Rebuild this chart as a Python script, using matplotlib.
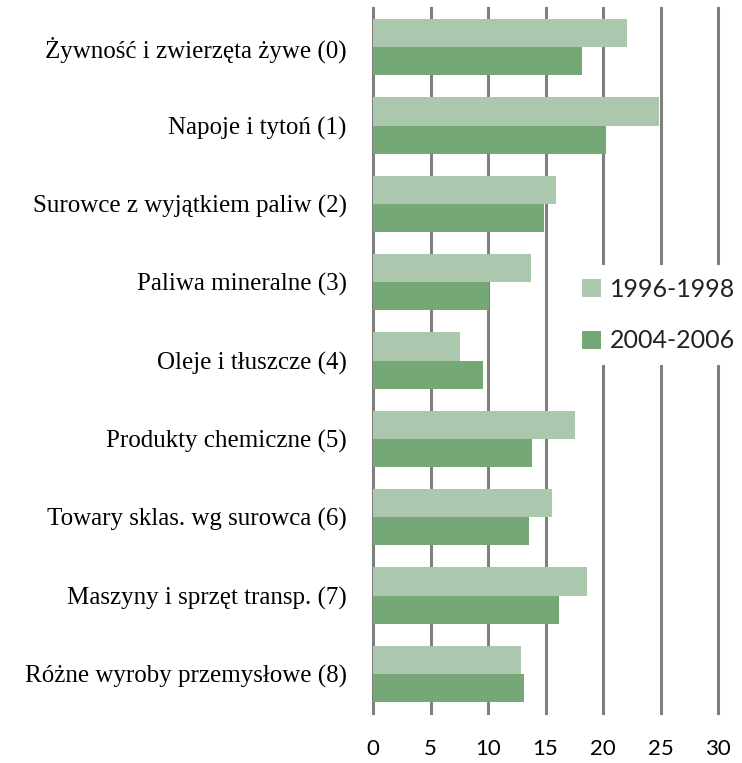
import numpy as np
import matplotlib
matplotlib.use("Agg")
import matplotlib.pyplot as plt

# data
categories = [
    "Żywność i zwierzęta żywe (0)",
    "Napoje i tytoń (1)",
    "Surowce z wyjątkiem paliw (2)",
    "Paliwa mineralne (3)",
    "Oleje i tłuszcze (4)",
    "Produkty chemiczne (5)",
    "Towary sklas. wg surowca (6)",
    "Maszyny i sprzęt transp. (7)",
    "Różne wyroby przemysłowe (8)",
]
vals_9698 = [22.1, 24.9, 15.9, 13.7, 7.6, 17.6, 15.6, 18.6, 12.9]
vals_0406 = [18.2, 20.3, 14.85, 10.1, 9.55, 13.85, 13.55, 16.2, 13.1]
series_names = ["1996-1998", "2004-2006"]
xticks = [0, 5, 10, 15, 20, 25, 30]

c_light = "#abc8ae"
c_dark = "#76a877"
grid_c = "#7f7f7f"

fig = plt.figure(figsize=(7.42, 7.63), dpi=100)
ax = fig.add_axes([0.5027, 0.0655, 0.465, 0.924])

y = np.arange(len(categories))
h = 0.36
ax.barh(y - h / 2, vals_9698, height=h, color=c_light, label=series_names[0], zorder=3)
ax.barh(y + h / 2, vals_0406, height=h, color=c_dark, label=series_names[1], zorder=3)

ax.set_xlim(0, 30)
ax.set_ylim(len(categories) - 0.5, -0.5)
ax.set_xticks(xticks)
ax.set_xticklabels([str(t) for t in xticks], fontsize=16, family="Lato")
ax.set_yticks(y)
ax.set_yticklabels(categories, fontsize=18, family="Liberation Serif")
ax.tick_params(axis="both", length=0)
ax.tick_params(axis="x", pad=19)
ax.tick_params(axis="y", pad=19)
for s in ax.spines.values():
    s.set_visible(False)
ax.grid(axis="x", color=grid_c, linewidth=2.2, zorder=1)
for gl in ax.get_xgridlines():
    gl.set_clip_on(False)
ax.set_axisbelow(True)

leg = ax.legend(loc="center left", bbox_to_anchor=(0.768, 0.587),
                bbox_transform=fig.transFigure, frameon=True,
                framealpha=1, edgecolor="none", facecolor="white", fancybox=False,
                prop={"family": "Lato", "size": 18},
                handlelength=0.75, handleheight=0.75, handletextpad=0.35,
                labelspacing=1.15, borderpad=0.5, borderaxespad=0)
for t in leg.get_texts():
    t.set_color("#222222")
leg.set_zorder(5)

fig.savefig("out.png", dpi=100)
